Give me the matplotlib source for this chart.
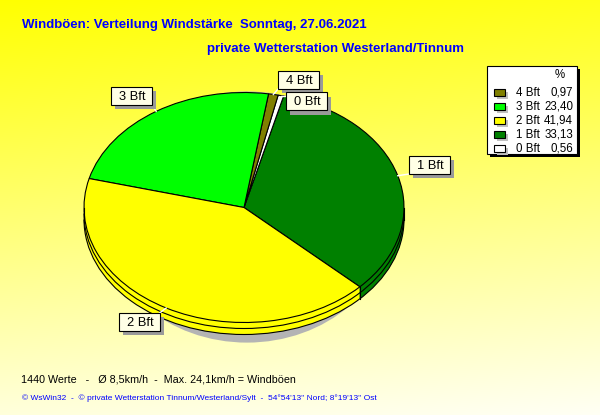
import numpy as np
import matplotlib
matplotlib.use('Agg')
import matplotlib.pyplot as plt
from matplotlib.patches import Ellipse, Rectangle, Arc

# ---------------- data ----------------
labels = ['4 Bft', '3 Bft', '2 Bft', '1 Bft', '0 Bft']
percent = [0.97, 23.40, 41.94, 33.13, 0.56]
colors = ['#808000', '#00FF00', '#FFFF00', '#008000', '#FFFFFF']
pie_order = ['1 Bft', '0 Bft', '4 Bft', '3 Bft', '2 Bft']   # counter-clockwise
start_angle = -43.6

title = 'Windböen: Verteilung Windstärke  Sonntag, 27.06.2021'
subtitle = 'private Wetterstation Westerland/Tinnum'
footer = '1440 Werte   -   Ø 8,5km/h  -  Max. 24,1km/h = Windböen'
copyright_txt = "© WsWin32  -  © private Wetterstation Tinnum/Westerland/Sylt  -  54°54'13'' Nord; 8°19'13'' Ost"

# ---------------- layout (pixels) ----------------
W, H = 600, 415
cx, cy, a, b = 244, 207.5, 160, 115
depth_px = 12
label_pos = {'4 Bft': (298.5, 80), '0 Bft': (306, 101.5), '3 Bft': (131.5, 96),
             '1 Bft': (429.5, 165), '2 Bft': (139, 322)}
FONT = 'Liberation Sans'
BLUE = '#0000FF'

fig = plt.figure(figsize=(6, 4.15), dpi=100)

# background gradient
bg = fig.add_axes([0, 0, 1, 1])
bg.axis('off')
ty = np.linspace(0, 1, H)[:, None]
tx = np.linspace(0, 1, W)[None, :]
blue = np.clip(0.86 * ty + 0.10 * tx, 0, 1)
img = np.dstack([np.ones((H, W)), np.ones((H, W)), blue])
bg.imshow(img, aspect='auto', extent=[0, 1, 0, 1], origin='upper')
bg.set_xlim(0, 1); bg.set_ylim(0, 1)

# pie axes, scaled so that a unit circle becomes the ellipse
ax = fig.add_axes([0, 0, 1, 1])
d = depth_px / b
vals = [percent[labels.index(l)] for l in pie_order]
cols = [colors[labels.index(l)] for l in pie_order]

# shadow
ax.add_patch(Ellipse(((247 - cx) / a, (cy - 217) / b), 2 * 145 / a, 2 * 125.6 / b,
                     facecolor='#B4B4B4', edgecolor='none', zorder=1))
# rim fillers
for s in np.linspace(d, 0, 14)[:-1]:
    ax.pie(vals, colors=cols, startangle=start_angle, center=(0, -s), radius=1,
           wedgeprops=dict(edgecolor='none', linewidth=0, zorder=2))
# top face
wedges, _ = ax.pie(vals, colors=cols, startangle=start_angle, center=(0, 0), radius=1,
                   wedgeprops=dict(edgecolor='black', linewidth=0.8, zorder=4))
ax.set_xlim(-cx / a, (W - cx) / a)
ax.set_ylim(-(H - cy) / b, cy / b)
ax.set_aspect('auto')
ax.axis('off')

# overlay in pixel coordinates
ov = fig.add_axes([0, 0, 1, 1])
ov.set_xlim(0, W); ov.set_ylim(H, 0); ov.axis('off')

# rim outlines
for off in (depth_px, depth_px / 2):
    ov.add_patch(Arc((cx, cy + off), 2 * a, 2 * b, theta1=0, theta2=180,
                     color='black', lw=0.8))
bounds = start_angle + np.concatenate([[0], np.cumsum(vals)]) * 3.6
for th in list(bounds[:-1]) + [0, 180]:
    t = np.deg2rad(th)
    if np.sin(t) <= 1e-9:
        x = cx + a * np.cos(t); y = cy - b * np.sin(t)
        ov.plot([x, x], [y, y + depth_px], color='black', lw=0.8)

# labels with leader lines
mids = (bounds[:-1] + bounds[1:]) / 2
bw, bh = 41, 18
for lab, m in zip(pie_order, mids):
    t = np.deg2rad(m)
    ex, ey = cx + a * np.cos(t), cy - b * np.sin(t)
    lx, ly = label_pos[lab]
    qx = min(max(ex, lx - bw / 2), lx + bw / 2)
    qy = min(max(ey, ly - bh / 2), ly + bh / 2)
    ov.plot([ex, qx], [ey, qy], color='white', lw=1, zorder=5)
    ov.add_patch(Rectangle((lx - bw / 2 + 4, ly - bh / 2 + 4), bw, bh,
                           facecolor='#9A9A9A', edgecolor='none', zorder=6))
    ov.add_patch(Rectangle((lx - bw / 2, ly - bh / 2), bw, bh,
                           facecolor='#FFFFE6', edgecolor='black', lw=0.8, zorder=7))
    ov.text(lx + 1, ly + 0.5, lab, ha='center', va='center', fontsize=9.3,
            family=FONT, color='black', zorder=8)

# legend box
lx0, ly0, lw_, lh_ = 487, 66, 90, 88
ov.add_patch(Rectangle((lx0 + 3, ly0 + 3), lw_, lh_, facecolor='black', zorder=6))
ov.add_patch(Rectangle((lx0, ly0), lw_, lh_, facecolor='white', edgecolor='black',
                       lw=0.8, zorder=7))
ov.text(560, 75, '%', ha='center', va='center', fontsize=8.3, family=FONT, zorder=8)
for i, (lab, p, c) in enumerate(zip(labels, percent, colors)):
    y = 92.5 + 14 * i
    ov.add_patch(Rectangle((497, y - 3.5 + 3), 11, 7, facecolor='#C0C0C0',
                           edgecolor='none', zorder=8))
    ov.add_patch(Rectangle((494, y - 3.5), 11, 7, facecolor=c, edgecolor='black',
                           lw=0.8, zorder=9))
    ov.text(516, y, lab, ha='left', va='center', fontsize=8.3, family=FONT, zorder=9)
    ov.text(573, y, f'{p:.2f}'.replace('.', ','), ha='right', va='center',
            fontsize=8.3, family=FONT, zorder=9)

# texts
t1 = ov.text(22, 25, title, ha='left', va='center', color=BLUE, fontweight='bold',
             fontsize=10, family=FONT)
t2 = ov.text(207, 49, subtitle, ha='left', va='center', color=BLUE, fontweight='bold',
             fontsize=10, family=FONT)
t3 = ov.text(21, 379, footer, ha='left', va='center', color='black', fontsize=9,
             family=FONT)
t4 = ov.text(22, 398, copyright_txt, ha='left', va='center', color=BLUE, fontsize=6.5,
             family=FONT)

fig.canvas.draw()
r = fig.canvas.get_renderer()
for t, target in ((t1, 346), (t2, 258), (t3, 273), (t4, 350)):
    w = t.get_window_extent(r).width
    t.set_fontsize(t.get_fontsize() * target / w)

fig.savefig('out.png', dpi=100)
